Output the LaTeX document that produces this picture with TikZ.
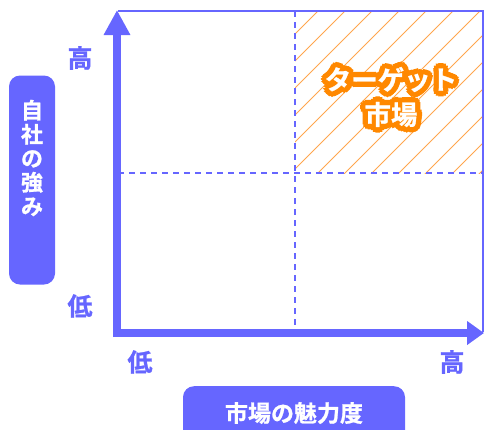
\documentclass[tikz,border=0pt]{standalone}
\usepackage{fontspec}
\setmainfont{Noto Sans CJK JP}[BoldFont={* Bold}]
\newfontfamily\outlinefont{Noto Sans CJK JP Bold}[FakeBold=4]
\newfontfamily\heavyfont{Noto Sans CJK JP Bold}[FakeBold=1]
\usetikzlibrary{arrows.meta,calc}
\definecolor{axisblue}{HTML}{6666FF}
\definecolor{tgtorange}{HTML}{FF8800}
\definecolor{hatchorange}{HTML}{FFA64D}
\begin{document}
\begin{tikzpicture}[x=1pt,y=-1pt,
  axisline/.style={draw=axisblue,line width=8pt},
  thinb/.style={draw=axisblue,line width=1.5pt},
  dashline/.style={draw=axisblue,line width=1.5pt,dash pattern=on 6pt off 5pt},
  lbl/.style={text=axisblue,font=\heavyfont\fontsize{25}{25}\selectfont,inner sep=0pt},
  titlebox/.style={fill=axisblue,rounded corners=11pt,inner sep=0pt},
  hatchline/.style={draw=hatchorange,line width=0.9pt},
  tgttext/.style={align=center,inner sep=0pt}]
\useasboundingbox (0,0) rectangle (484,429);
% hatched region
\begin{scope}
\clip (295,11) rectangle (483,173);
\foreach \k in {-200,-173,...,400}{\draw[hatchline] (295+\k,180) -- (295+\k+200,-20);}
\end{scope}
% thin border
\coordinate (tl) at (118,11);
\coordinate (tr) at (483,11);
\coordinate (br) at (483,332);
\draw[thinb] (tl) -- (tr) -- (br);
% dashed quadrant lines
\coordinate (vd1) at (295,11);
\coordinate (vd2) at (295,332);
\coordinate (hd1) at (118,173);
\coordinate (hd2) at (483,173);
\draw[dashline] (vd1) -- (vd2);
\draw[dashline] (hd1) -- (hd2);
% axes
\coordinate (ystart) at (117,337);
\coordinate (xstart) at (113,333);
\coordinate (ytip) at (117,10);
\coordinate (xtip) at (484,333);
\draw[axisline,-{Triangle[width=25pt,length=25pt]}] (ystart) -- (ytip);
\draw[axisline,-{Triangle[width=23pt,length=17pt]}] (xstart) -- (xtip);
% axis labels
\node[lbl] (yhi) at (80,58) {高};
\node[lbl] (ylo) at (80,306) {低};
\node[lbl] (xlo) at (140,362) {低};
\node[lbl] (xhi) at (452,362) {高};
% titles
\node[titlebox,minimum width=46pt,minimum height=209pt] (ytitle) at (32,180) {};
\node[text=white,font=\heavyfont\fontsize{22}{24}\selectfont,align=center,inner sep=0pt] (ytext) at (32,158) {自\\社\\の\\強\\み};
\node[titlebox,minimum width=222pt,minimum height=60pt,anchor=north] (xtitle) at (294,386) {};
\node[text=white,font=\heavyfont\fontsize{23}{24}\selectfont,inner sep=0pt] (xtext) at (294,413) {市場の魅力度};
% target label: orange outline made of offset copies, white text on top
\coordinate (tgt) at (391,97);
\node[tgttext,text=tgtorange,font=\outlinefont\fontsize{26.5}{35}\selectfont] at (tgt) {ターゲット\\市場};
\foreach \a in {0,30,...,330}{
  \node[tgttext,text=tgtorange,font=\outlinefont\fontsize{26.5}{35}\selectfont] at ($(tgt)+(\a:5pt)$) {ターゲット\\市場};
}
\node[tgttext,text=white,font=\heavyfont\fontsize{26.5}{35}\selectfont] (target) at (tgt) {ターゲット\\市場};
\end{tikzpicture}
\end{document}
